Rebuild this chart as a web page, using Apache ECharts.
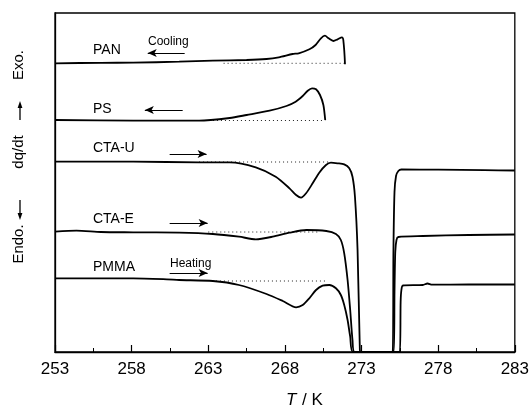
<!DOCTYPE html>
<html>
<head>
<meta charset="utf-8">
<script src="https://cdn.jsdelivr.net/npm/echarts@6/dist/echarts.min.js"></script>
<style>
  html, body { margin: 0; padding: 0; background: #fff; }
  #chart { width: 532px; height: 408px; }
</style>
</head>
<body>
<div id="chart"></div>
<script>
// DSC traces, T in K, heat flow in arbitrary units (curves offset vertically)
const PAN = [
  [253.0, 288.7], [256.0, 289.2], [258.1, 289.3], [261.1, 290.3], [263.3, 291.3],
  [265.5, 292.0], [266.8, 293.0], [267.6, 294.7], [268.5, 298.0], [268.9, 298.7],
  [269.6, 302.7], [270.0, 307.0], [270.35, 313.7], [270.61, 316.3], [270.85, 313.7],
  [271.16, 311.0], [271.44, 312.7], [271.72, 314.7], [271.81, 312.0], [271.92, 287.7]
];
const PS = [
  [253.0, 232.0], [258.1, 231.3], [262.4, 231.3], [264.4, 234.0], [265.5, 237.0],
  [267.0, 241.3], [268.1, 246.0], [268.7, 250.3], [269.16, 256.0], [269.49, 261.3],
  [269.77, 263.7], [270.03, 262.7], [270.29, 257.0], [270.51, 247.0], [270.63, 232.0]
];
const CTAU = [
  [253.0, 190.3], [258.1, 190.3], [262.4, 189.7], [264.4, 189.7], [266.1, 184.7],
  [267.4, 175.3], [268.3, 163.7], [268.73, 157.0], [269.05, 154.3], [269.38, 158.7],
  [269.81, 168.7], [270.24, 179.3], [270.68, 187.0], [271.0, 189.3], [271.44, 188.7],
  [271.87, 187.7], [272.2, 183.7], [272.41, 175.3], [272.57, 155.3], [272.74, 102.0],
  [272.89, 2.0], [272.94, 0],
  [275.03, 0], [275.08, 100], [275.15, 160], [275.25, 176], [275.4, 181],
  [275.6, 182.5], [278.0, 182.3], [281.0, 181.8], [283.0, 181.5]
];
const CTAE = [
  [253.0, 120.3], [254.4, 121.3], [256.0, 120.0], [258.1, 119.7], [261.1, 119.3],
  [263.3, 118.0], [265.0, 115.3], [266.1, 112.7], [267.2, 115.3], [268.3, 119.3],
  [269.4, 122.0], [270.7, 121.0], [271.33, 118.0], [271.65, 112.0], [271.87, 98.7],
  [272.09, 72.0], [272.26, 42.0], [272.41, 12.0], [272.55, 0],
  [275.1, 0], [275.15, 60], [275.2, 100], [275.28, 112], [275.4, 115],
  [277.0, 116.0], [280.0, 117.0], [283.0, 117.5]
];
const PMMA = [
  [253.0, 73.7], [258.1, 73.7], [260.3, 72.7], [261.1, 72.0], [263.3, 71.0],
  [265.0, 67.0], [266.8, 58.0], [267.86, 51.0], [268.73, 44.7], [269.16, 47.0],
  [269.59, 53.7], [270.03, 62.0], [270.46, 66.3], [270.9, 67.0], [271.33, 63.7],
  [271.65, 57.0], [271.87, 47.0], [272.09, 32.0], [272.26, 15.3], [272.45, 0],
  [275.5, 0], [275.55, 50], [275.6, 62], [275.7, 66.5],
  [277.0, 67.0], [277.3, 68.5], [277.6, 67.3], [280.0, 67.5], [283.0, 67.5]
];

// dotted extrapolated baselines
const basePAN = [[264.0, 288.7], [271.92, 288.7]];
const basePS = [[262.0, 231.5], [270.63, 231.5]];
const baseCTAU = [[262.4, 190.0], [271.0, 190.0]];
const baseCTAE = [[263.0, 120.0], [270.3, 120.0]];
const basePMMA = [[263.5, 71.0], [270.7, 71.0]];

// direction arrows: [from, to]
const arrowPAN = [[261.46, 299], [259.05, 299]];
const arrowPS = [[261.33, 242], [258.86, 242]];
const arrowCTAU = [[260.48, 198], [262.89, 198]];
const arrowCTAE = [[260.48, 129], [262.96, 129]];
const arrowPMMA = [[260.48, 79], [262.96, 79]];

const xTicks = [253, 258, 263, 268, 273, 278, 283];

const FONT = '"Liberation Sans", Arial, Helvetica, sans-serif';

function curve(name, data, arrow) {
  return {
    name: name,
    type: 'line',
    data: data,
    showSymbol: false,
    smooth: 0.25,
    lineStyle: { color: '#000', width: 1.8 },
    z: 3,
    markLine: {
      silent: true,
      animation: false,
      symbol: ['none', 'arrow'],
      symbolSize: [6, 9],
      label: { show: false },
      lineStyle: { color: '#000', width: 1.1, type: 'solid' },
      data: [[{ coord: arrow[0] }, { coord: arrow[1] }]]
    }
  };
}

function baseline(data) {
  return {
    type: 'line',
    data: data,
    showSymbol: false,
    lineStyle: { color: '#222', width: 1, type: [1, 3] },
    z: 2
  };
}

const chart = echarts.init(document.getElementById('chart'), null, { renderer: 'canvas' });

chart.setOption({
  animation: false,
  backgroundColor: '#fff',
  grid: {
    left: 55, right: 16, top: 13, bottom: 56,
    show: true, borderColor: '#000', borderWidth: 1.3
  },
  xAxis: {
    type: 'value',
    min: 253, max: 283, interval: 5,
    axisLine: { lineStyle: { color: '#000', width: 1.3 } },
    axisTick: { inside: true, length: 7, lineStyle: { color: '#000', width: 1.2 } },
    minorTick: { show: true, splitNumber: 2, length: 4, lineStyle: { color: '#000', width: 1 } },
    splitLine: { show: false },
    axisLabel: {
      color: '#000', fontSize: 17, fontFamily: FONT, margin: 9,
      formatter: (v) => (xTicks.indexOf(v) >= 0 ? String(v) : '')
    }
  },
  yAxis: {
    type: 'value',
    min: 0, max: 339,
    axisLine: { show: true, lineStyle: { color: '#000', width: 1.3 } },
    axisTick: { show: false },
    axisLabel: { show: false },
    splitLine: { show: false }
  },
  series: [
    curve('PAN', PAN, arrowPAN),
    curve('PS', PS, arrowPS),
    curve('CTA-U', CTAU, arrowCTAU),
    curve('CTA-E', CTAE, arrowCTAE),
    curve('PMMA', PMMA, arrowPMMA),
    baseline(basePAN),
    baseline(basePS),
    baseline(baseCTAU),
    baseline(baseCTAE),
    baseline(basePMMA)
  ],
  graphic: [
    // curve labels
    { type: 'text', left: 93, top: 43, style: { text: 'PAN', fill: '#000', font: '14px ' + FONT } },
    { type: 'text', left: 148, top: 36, style: { text: 'Cooling', fill: '#000', font: '12px ' + FONT } },
    { type: 'text', left: 93, top: 102, style: { text: 'PS', fill: '#000', font: '14px ' + FONT } },
    { type: 'text', left: 93, top: 141, style: { text: 'CTA-U', fill: '#000', font: '14px ' + FONT } },
    { type: 'text', left: 93, top: 212, style: { text: 'CTA-E', fill: '#000', font: '14px ' + FONT } },
    { type: 'text', left: 93, top: 260, style: { text: 'PMMA', fill: '#000', font: '14px ' + FONT } },
    { type: 'text', left: 170, top: 258, style: { text: 'Heating', fill: '#000', font: '12px ' + FONT } },

    // y-axis title, rotated
    { type: 'text', x: 19, y: 65, rotation: Math.PI / 2,
      style: { text: 'Exo.', fill: '#000', font: '15px ' + FONT, textAlign: 'center', textVerticalAlign: 'middle' } },
    { type: 'text', x: 19, y: 152, rotation: Math.PI / 2,
      style: { text: 'dq/dt', fill: '#000', font: '15px ' + FONT, textAlign: 'center', textVerticalAlign: 'middle' } },
    { type: 'text', x: 19, y: 244, rotation: Math.PI / 2,
      style: { text: 'Endo.', fill: '#000', font: '15px ' + FONT, textAlign: 'center', textVerticalAlign: 'middle' } },
    { type: 'line', shape: { x1: 20, y1: 120, x2: 20, y2: 106 }, style: { stroke: '#000', lineWidth: 1.3 } },
    { type: 'polygon', shape: { points: [[20, 101], [17.6, 108], [22.4, 108]] }, style: { fill: '#000' } },
    { type: 'line', shape: { x1: 20, y1: 200, x2: 20, y2: 214 }, style: { stroke: '#000', lineWidth: 1.3 } },
    { type: 'polygon', shape: { points: [[20, 220], [17.6, 213], [22.4, 213]] }, style: { fill: '#000' } },

    // x-axis title
    { type: 'text', left: 286, top: 392,
      style: { text: 'T', fill: '#000', font: 'italic 17px ' + FONT } },
    { type: 'text', left: 302, top: 392,
      style: { text: '/ K', fill: '#000', font: '17px ' + FONT } }
  ]
});
</script>
</body>
</html>
